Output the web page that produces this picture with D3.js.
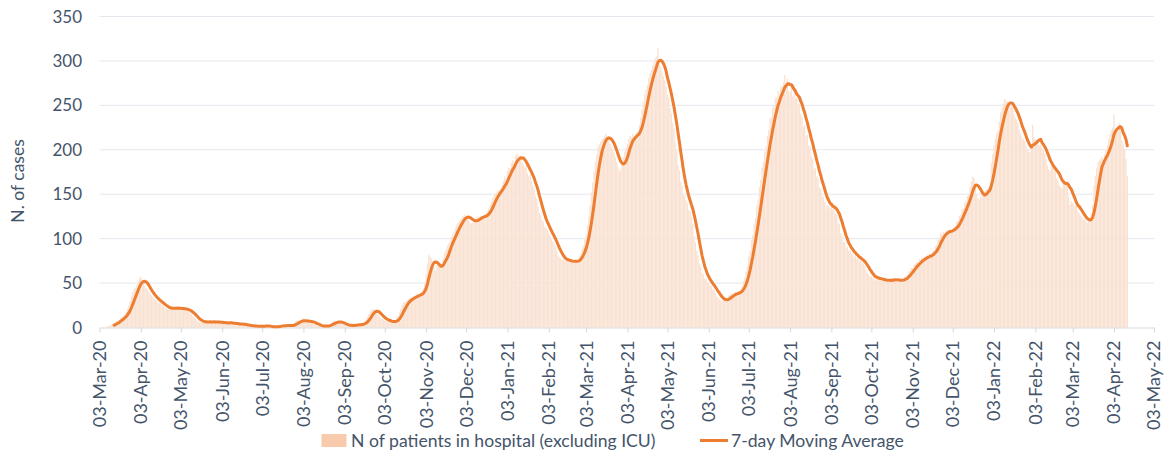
<!DOCTYPE html>
<html lang="en">
<head>
  <meta charset="utf-8">
  <title>Patients in hospital</title>
  <script src="https://cdn.jsdelivr.net/npm/d3@7"></script>
  <style>
    body { margin: 0; background: #fff; }
    svg text { font-family: Lato, "Open Sans", sans-serif; fill: #44546a; }
  </style>
</head>
<body>
<svg id="chart" width="1164" height="454"></svg>
<script>
// daily N of patients in hospital (excluding ICU), first value = 8 Mar 2020
var firstDay = "2020-03-08";

var hosp2020 = [
  1,1,2,2,3,4,5,6,7,8,9,11,12,13,15,18,21,25,30,35,40,43,45,48,                 // Mar 8-31
  52,56,57,54,50,47,44,42,40,38,36,34,32,31,30,28,28,27,25,24,22,22,21,20,22,23,22,21,22,21,
  22,21,22,21,21,20,20,19,18,17,15,13,11,10,8,7,6,6,7,6,6,7,6,6,7,6,6,7,6,6,6,
  6,5,5,6,5,5,5,5,6,5,4,4,4,4,4,3,4,4,3,3,2,2,2,2,1,2,2,1,1,1,
  2,1,2,2,1,2,2,1,1,0,0,0,1,2,2,2,2,2,2,2,2,3,2,2,2,2,4,7,8,8,8,
  8,7,7,8,7,7,7,6,6,5,4,3,2,2,2,1,1,1,2,2,2,3,4,5,6,7,7,7,6,6,5,
  4,3,3,2,2,2,2,3,2,3,3,3,4,3,4,4,5,6,9,12,15,18,20,21,20,18,16,14,12,10,
  10,9,8,8,7,7,6,6,6,7,8,10,13,17,21,25,28,28,30,31,32,33,34,35,35,36,37,37,38,39,40,
  44,50,60,72,82,80,78,72,68,64,70,73,70,66,72,78,85,88,92,95,98,102,105,108,112,116,118,120,122,124,
  126,127,126,124,121,118,117,118,120,122,124,125,124,125,124,125,126,128,131,134,138,142,146,149,151,153,154,155,157,160,165
];

var hosp2021 = [
  170,168,176,180,179,185,188,184,193,196,194,190,193,186,183,180,182,174,170,172,165,160,156,148,145,136,129,127,121,119,113,
  112,110,106,104,99,97,94,91,86,81,79,78,76,77,75,76,75,74,76,73,74,73,76,75,76,80,83,88,
  92,99,104,115,125,138,152,163,176,186,195,203,206,209,212,213,216,218,214,212,207,203,200,197,192,186,180,176,178,185,192,
  198,203,207,212,216,214,218,213,216,219,221,228,236,245,253,262,268,273,281,286,290,295,299,303,305,314,296,293,287,283,
  278,271,262,258,247,241,230,224,208,199,183,177,164,160,149,148,143,140,132,131,125,117,103,96,86,81,72,68,61,60,55,
  55,51,50,47,47,43,42,39,35,34,32,31,29,30,31,33,32,36,37,39,37,38,40,38,39,41,43,46,52,56,
  63,69,80,86,98,104,116,123,136,144,158,166,180,186,198,204,216,222,235,237,247,249,258,259,266,263,271,272,276,284,272,
  280,266,264,271,260,264,258,258,252,251,240,237,226,227,216,217,205,203,192,190,179,179,170,168,158,156,148,147,142,134,138,
  137,134,139,133,135,128,127,118,116,106,103,96,96,90,91,86,87,83,83,79,81,77,78,75,76,73,72,69,65,61,
  60,57,58,55,57,54,56,55,53,55,54,52,54,51,54,52,55,53,55,53,55,52,54,51,53,55,54,57,58,59,63,
  64,67,67,71,71,74,73,77,76,79,78,80,79,82,80,83,81,86,87,91,93,99,101,107,105,108,106,109,107,110,
  110,108,111,113,114,119,120,126,127,133,134,140,142,148,150,158,164,170,168,162,150,146,144,148,150,152,153,155,156,158,160
];

var hosp2022 = [
  185,195,205,212,218,222,232,242,248,252,257,255,254,252,250,249,248,240,236,234,230,222,218,214,212,210,204,200,198,197,200,
  228,214,212,210,208,205,206,202,199,196,190,182,178,176,182,180,178,177,168,165,160,158,156,166,165,164,165,148,
  138,142,140,138,137,137,130,128,126,124,121,122,120,118,119,123,128,138,160,170,180,186,188,190,192,185,195,200,205,212,218,
  222,225,240,222,220,221,230,224,210,206,200,190,171                                   // Apr 1-13
];

var tickLabels = ["03-Mar-20","03-Apr-20","03-May-20","03-Jun-20","03-Jul-20","03-Aug-20","03-Sep-20",
  "03-Oct-20","03-Nov-20","03-Dec-20","03-Jan-21","03-Feb-21","03-Mar-21","03-Apr-21","03-May-21",
  "03-Jun-21","03-Jul-21","03-Aug-21","03-Sep-21","03-Oct-21","03-Nov-21","03-Dec-21","03-Jan-22",
  "03-Feb-22","03-Mar-22","03-Apr-22","03-May-22"];
var yTicks = [0, 50, 100, 150, 200, 250, 300, 350];
var seriesNames = ["N of patients in hospital (excluding ICU)", "7-day Moving Average"];
var yTitle = "N. of cases";

var svg = d3.select("#chart");
// plot edges (note: "top" is taken by window.top)
var plotLeft = 99.5, plotRight = 1154, plotTop = 16.5, plotBase = 327.5;

var start = d3.timeParse("%Y-%m-%d")(firstDay);
var values = hosp2020.concat(hosp2021, hosp2022);
var data = values.map(function(v, i) { return {date: d3.timeDay.offset(start, i), value: v}; });

// trailing 7 day mean, same as the excel trendline
var avg = [];
for (var i = 6; i < data.length; i++) {
  avg.push({date: data[i].date, value: d3.mean(values.slice(i - 6, i + 1))});
}

var ticks = tickLabels.map(d3.timeParse("%d-%b-%y"));
var x = d3.scaleTime().domain([ticks[0], ticks[ticks.length - 1]]).range([plotLeft, plotRight]);
var y = d3.scaleLinear().domain([0, 350]).range([plotBase, plotTop]);

// gridlines
svg.append("g").selectAll("line")
  .data(yTicks.slice(1))
  .enter().append("line")
  .attr("x1", plotLeft).attr("x2", plotRight)
  .attr("y1", function(d) { return y(d); })
  .attr("y2", function(d) { return y(d); })
  .style("stroke", "#e4e7ed")
  .style("stroke-width", 1);

// y labels
svg.append("g").selectAll("text")
  .data(yTicks)
  .enter().append("text")
  .attr("x", 82)
  .attr("y", function(d) { return y(d); })
  .attr("dy", "0.36em")
  .style("text-anchor", "end")
  .style("font-size", "17px")
  .text(function(d) { return d; });

svg.append("text")
  .attr("transform", "translate(24,181) rotate(-90)")
  .style("text-anchor", "middle")
  .style("font-size", "17.5px")
  .text(yTitle);

// bars
var step = x(d3.timeDay.offset(start, 1)) - x(start);
svg.append("g").selectAll("rect")
  .data(data)
  .enter().append("rect")
  .attr("x", function(d) { return x(d.date) - step / 2; })
  .attr("y", function(d) { return y(d.value); })
  .attr("width", step)
  .attr("height", function(d) { return plotBase - y(d.value); })
  .style("fill", "#fae2d3");

// x axis
var xAxis = svg.append("g")
  .attr("transform", "translate(0," + plotBase + ")")
  .call(d3.axisBottom(x).tickValues(ticks).tickFormat(d3.timeFormat("%d-%b-%y")).tickSize(5).tickSizeOuter(0));
xAxis.select(".domain").style("stroke", "#d9d9d9");
xAxis.selectAll(".tick line").style("stroke", "#d9d9d9");
xAxis.selectAll("text")
  .attr("x", -13)
  .attr("y", 0)
  .attr("dy", "0.33em")
  .attr("transform", "rotate(-90)")
  .style("text-anchor", "end")
  .style("font-size", "18px");

// moving average
var line = d3.line()
  .x(function(d) { return x(d.date); })
  .y(function(d) { return y(d.value); });

svg.append("path")
  .datum(avg)
  .attr("d", line)
  .style("fill", "none")
  .style("stroke", "#ed7d31")
  .style("stroke-width", 3)
  .style("stroke-linejoin", "round")
  .style("stroke-linecap", "round");

// legend
var legend = svg.append("g");
legend.append("rect")
  .attr("x", 321.5).attr("y", 434)
  .attr("width", 25).attr("height", 13)
  .style("fill", "#f8cbad");
legend.append("text")
  .attr("x", 351).attr("y", 447)
  .style("font-size", "17.6px")
  .text(seriesNames[0]);
legend.append("line")
  .attr("x1", 700).attr("x2", 728)
  .attr("y1", 440.5).attr("y2", 440.5)
  .style("stroke", "#ed7d31")
  .style("stroke-width", 3);
legend.append("text")
  .attr("x", 731).attr("y", 447)
  .style("font-size", "17.6px")
  .text(seriesNames[1]);
</script>
</body>
</html>
